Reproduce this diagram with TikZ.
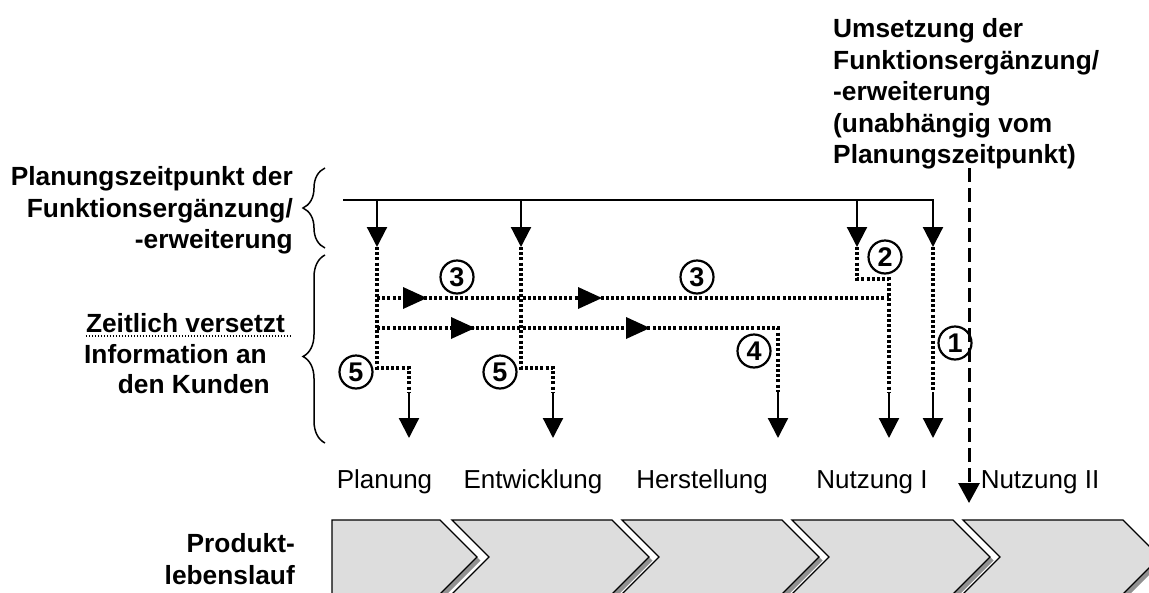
\documentclass[tikz,border=0pt]{standalone}
\usepackage{fontspec}
\setmainfont{Liberation Sans}
\usetikzlibrary{arrows.meta,decorations.pathreplacing,calc}
\definecolor{chevfill}{RGB}{221,221,221}
\definecolor{chevshadow}{RGB}{145,145,145}
\begin{document}
\begin{tikzpicture}[x=1pt,y=-1pt,
  plaintxt/.style={font=\fontsize{26}{31.5}\selectfont, inner sep=0pt},
  boldtxt/.style={font=\bfseries\fontsize{26.3}{31.5}\selectfont, inner sep=0pt},
  solidarr/.style={line width=2.2pt, -{Triangle[width=20pt,length=20pt]}},
  dotline/.style={line width=3.2pt, dash pattern=on 3pt off 2.2pt},
  dasharr/.style={line width=3pt, dash pattern=on 14pt off 6pt, -{Triangle[width=21pt,length=20pt]}},
  circnum/.style={circle, draw, line width=2.2pt, minimum size=33pt, inner sep=0pt,
    font=\bfseries\fontsize{27}{27}\selectfont},
  bracestyle/.style={line width=1.5pt, decorate, decoration={brace, amplitude=22pt}},
  chevbody/.style={fill=chevfill, draw=black, line width=1.3pt, line join=miter},
  midtri/.pic={\fill (0,0) -- (-24,-11) -- (-24,11) -- cycle;}
]
\useasboundingbox (0,0) rectangle (1149,592);

% ---------- process chevrons ----------
\begin{scope}
  \clip (0,0) rectangle (1149,592);
  \fill[chevshadow, shift={(3.5,3.5)}] (332,520) -- (440,520) -- (477,557) -- (440,594) -- (332,594) -- cycle;
  \path[chevbody] (332,520) -- (440,520) -- (477,557) -- (440,594) -- (332,594) -- cycle;
  \foreach \l/\r in {452/612, 622/782, 792/953, 963/1123} {
    \fill[chevshadow, shift={(3.5,3.5)}] (\l,520) -- (\r,520) -- (\r+37,557) -- (\r,594) -- (\l,594) -- (\l+37,557) -- cycle;
    \path[chevbody] (\l,520) -- (\r,520) -- (\r+37,557) -- (\r,594) -- (\l,594) -- (\l+37,557) -- cycle;
  }
\end{scope}

% ---------- texts ----------
\node[boldtxt, align=right, anchor=north east] (plan) at (293,166.4)
  {Planungszeitpunkt der\\Funktionsergänzung/\\-erweiterung};
\node[boldtxt, align=left, anchor=north west] (umset) at (833,18.4)
  {Umsetzung der\\Funktionsergänzung/\\-erweiterung\\(unabhängig vom\\Planungszeitpunkt)};
\node[boldtxt, anchor=base east] (zv) at (285,332) {Zeitlich versetzt};
\node[boldtxt, anchor=base east] (info) at (267,363) {Information an};
\node[boldtxt, anchor=base east] (kunden) at (270,393) {den Kunden};
\node[boldtxt, align=right, anchor=north east] (prod) at (295,533.4) {Produkt-\\lebenslauf};

\draw[line width=1.5pt, dash pattern=on 1.5pt off 1.5pt]
  ($(zv.base west)+(0,4)$) -- ($(zv.base east)+(7,4)$);

\node[plaintxt, anchor=base] (s1) at (384.5,488) {Planung};
\node[plaintxt, anchor=base] (s2) at (533,488) {Entwicklung};
\node[plaintxt, anchor=base] (s3) at (702,488) {Herstellung};
\node[plaintxt, anchor=base] (s4) at (872,488) {Nutzung I};
\node[plaintxt, anchor=base] (s5) at (1040,488) {Nutzung II};

% ---------- braces ----------
\draw[bracestyle] (325,248) -- (325,168);
\draw[bracestyle, decoration={aspect=0.46}] (325,443) -- (325,255);

% ---------- planning line and its arrows ----------
\coordinate (tl) at (343,200);
\coordinate (tr) at (934,200);
\draw[line width=2.2pt] (tl) -- (tr);

\coordinate (t1) at (377,200);  \coordinate (a1) at (377,247);
\coordinate (t2) at (521,200);  \coordinate (a2) at (521,247);
\coordinate (t3) at (857,200);  \coordinate (a3) at (857,247);
\coordinate (t4) at (933,200);  \coordinate (a4) at (933,247);
\foreach \i in {1,2,3,4} { \draw[solidarr] (t\i) -- (a\i); }

% ---------- arrows into the phases ----------
\coordinate (b1s) at (409,392);  \coordinate (b1) at (409,438);
\coordinate (b2s) at (553,392);  \coordinate (b2) at (553,438);
\coordinate (b3s) at (778,392);  \coordinate (b3) at (778,438);
\coordinate (b4s) at (889,392);  \coordinate (b4) at (889,438);
\coordinate (b5s) at (933,392);  \coordinate (b5) at (933,438);
\foreach \i in {1,...,5} { \draw[solidarr] (b\i s) -- (b\i); }

% ---------- dotted information paths ----------
\draw[dotline] (a1) -- (377,368) -- (409,368) -- (b1s);
\draw[dotline] (a2) -- (521,368) -- (553,368) -- (b2s);
\draw[dotline] (a3) -- (857,279) -- (889,279) -- (b4s);
\draw[dotline] (a4) -- (b5s);

\coordinate (h3s) at (377,298); \coordinate (h3e) at (889,298);
\draw[dotline] (h3s) -- (h3e);
\pic at (427,298) {midtri};
\pic at (602,298) {midtri};

\coordinate (h4s) at (377,328); \coordinate (h4c) at (778,328);
\draw[dotline] (h4s) -- (h4c) -- (b3s);
\pic at (475,328) {midtri};
\pic at (650,328) {midtri};

% ---------- independent realisation ----------
\coordinate (d0) at (969,168);
\coordinate (d1) at (969,503);
\draw[dasharr] (d0) -- (d1);

% ---------- numbered markers ----------
\node[circnum] (n1) at (955,343) {1};
\node[circnum] (n2) at (885,257) {2};
\node[circnum] (n3a) at (457,277) {3};
\node[circnum] (n3b) at (697,277) {3};
\node[circnum] (n4) at (754,351) {4};
\node[circnum] (n5a) at (356,372) {5};
\node[circnum] (n5b) at (500,372) {5};
\end{tikzpicture}
\end{document}
